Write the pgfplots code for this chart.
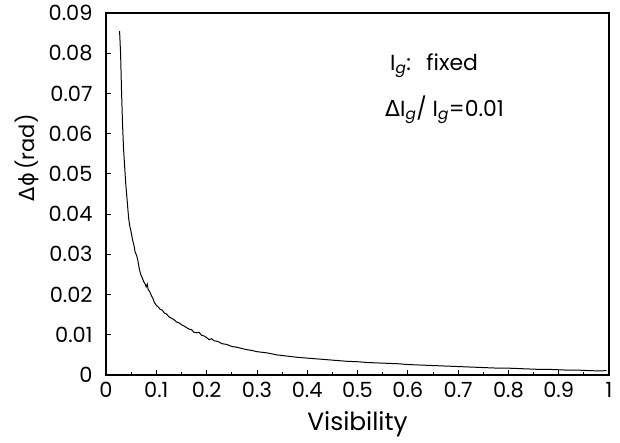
\documentclass[border=0pt]{standalone}
\usepackage{fontspec}
\setmainfont{Poppins}
\newfontfamily\grk{DejaVu Sans}
\usepackage{pgfplots}
\pgfplotsset{compat=1.18}
\begin{document}
\begin{tikzpicture}[x=1bp,y=1bp]
\begin{axis}[
  name=ax, at={(0,0)}, anchor=south west,
  scale only axis, width=503bp, height=362bp,
  xmin=0, xmax=1, ymin=0, ymax=0.09,
  xtick={0,0.1,...,1.0},
  xticklabels={0,0.1,0.2,0.3,0.4,0.5,0.6,0.7,0.8,0.9,1},
  ytick={0,0.01,...,0.09},
  yticklabels={0,0.01,0.02,0.03,0.04,0.05,0.06,0.07,0.08,0.09},
  minor x tick num=1,
  xtick pos=bottom, ytick pos=left,
  tick align=inside,
  major tick length=5bp, minor tick length=3bp,
  axis line style={line width=1.1pt},
  tick style={line width=0.8pt, black},
  ticklabel style={font=\fontsize{21}{21}\selectfont},
  xticklabel style={yshift=-4bp},
  yticklabel style={xshift=-10bp},
  xlabel={Visibility},
  ylabel={{\grk Δϕ}\,(rad)},
  xlabel style={font=\fontsize{25}{25}\selectfont, yshift=-6bp},
  ylabel style={font=\fontsize{21}{21}\selectfont, at={(ticklabel cs:0.60)}, yshift=3bp},
  scaled y ticks=false,
]
\addplot[black, line width=1pt] coordinates {
(0.027,0.0855) (0.029,0.0800) (0.031,0.0700) (0.033,0.0620) (0.035,0.0560)
(0.037,0.0520) (0.039,0.0480) (0.041,0.0450) (0.043,0.0420) (0.045,0.0390)
(0.047,0.0372) (0.050,0.0355) (0.053,0.0335) (0.056,0.0320) (0.058,0.0305)
(0.061,0.0297) (0.063,0.0287) (0.066,0.0265) (0.069,0.0250) (0.072,0.0242)
(0.075,0.0232) (0.078,0.0226) (0.080,0.0219) (0.082,0.0226) (0.084,0.0212)
(0.087,0.0207) (0.090,0.0198) (0.093,0.0191) (0.096,0.0181) (0.100,0.0173)
(0.104,0.0169) (0.108,0.0163) (0.112,0.0161) (0.116,0.0154) (0.120,0.0152)
(0.125,0.0145) (0.130,0.0141) (0.135,0.0138) (0.140,0.0132) (0.145,0.0130)
(0.150,0.0125) (0.155,0.0122) (0.160,0.0118) (0.165,0.0114) (0.170,0.0113)
(0.175,0.0106) (0.180,0.0105) (0.185,0.0106) (0.190,0.0099) (0.195,0.0097)
(0.200,0.0093) (0.205,0.0088) (0.210,0.0090) (0.215,0.0085) (0.220,0.0084)
(0.225,0.0082) (0.230,0.0078) (0.240,0.0076) (0.250,0.0071) (0.260,0.0069)
(0.270,0.0066) (0.280,0.0063) (0.290,0.0061) (0.300,0.0058) (0.320,0.0055)
(0.340,0.0050) (0.360,0.0047) (0.380,0.0044) (0.400,0.0042) (0.420,0.0040)
(0.440,0.0038) (0.460,0.0036) (0.480,0.0034) (0.500,0.0033) (0.520,0.0031)
(0.540,0.0030) (0.560,0.0029) (0.580,0.0028) (0.600,0.0026) (0.620,0.0025)
(0.640,0.0024) (0.660,0.0023) (0.680,0.0022) (0.700,0.0021) (0.720,0.0020)
(0.740,0.0019) (0.760,0.0018) (0.780,0.0017) (0.800,0.0017) (0.820,0.0016)
(0.840,0.0015) (0.860,0.0014) (0.880,0.0014) (0.900,0.0013) (0.920,0.0012)
(0.940,0.0012) (0.960,0.0011) (0.980,0.0010) (0.995,0.0011)
};
\node[anchor=west, font=\fontsize{22}{22}\selectfont] at (axis cs:0.558,0.0768)
  {I\textsubscript{\itshape g}:\ \ \,fixed};
\node[anchor=west, font=\fontsize{22}{22}\selectfont] at (axis cs:0.548,0.0660)
  {{\grk Δ}I\textsubscript{\itshape g}/ I\textsubscript{\itshape g}=0.01};
\end{axis}
\pgfresetboundingbox
\path (-106bp,-68bp) rectangle (514bp,375bp);
\end{tikzpicture}
\end{document}
